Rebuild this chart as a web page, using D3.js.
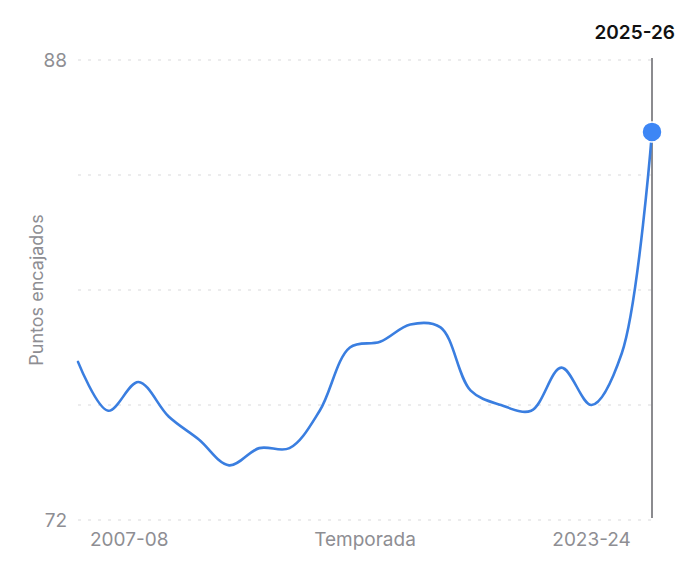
<!DOCTYPE html>
<html>
<head>
<meta charset="utf-8">
<script src="https://cdn.jsdelivr.net/npm/d3@7"></script>
<style>
  html, body { margin: 0; padding: 0; background: #fff; }
  svg { display: block; font-family: Inter, "Noto Sans", sans-serif; }
</style>
</head>
<body>
<svg id="chart" width="680" height="583"></svg>
<script>
const seasons = ["2006-07","2007-08","2008-09","2009-10","2010-11","2011-12","2012-13","2013-14","2014-15","2015-16","2016-17","2017-18","2018-19","2019-20","2020-21","2021-22","2022-23","2023-24","2024-25","2025-26"];
const pointsAllowed = [77.5, 75.8, 76.8, 75.6, 74.8, 73.9, 74.5, 74.5, 75.8, 78.0, 78.2, 78.8, 78.7, 76.5, 76.0, 75.8, 77.3, 76.0, 77.8, 85.5];
const gridValues = [72, 76, 80, 84, 88];
const yTickLabels = [72, 88];
const xTickLabels = ["2007-08", "2023-24"];
const yTitle = "Puntos encajados";
const xTitle = "Temporada";
const highlighted = "2025-26";

(function () {
const svg = d3.select("#chart");
const mLeft = 78, mRight = 652, mTop = 60, mBottom = 520;
const gray = "#8e8e93";

const x = d3.scaleLinear().domain([0, seasons.length - 1]).range([mLeft, mRight]);
const y = d3.scaleLinear().domain([72, 88]).range([mBottom, mTop]);

// grid
svg.append("g").selectAll("line").data(gridValues).join("line")
  .attr("x1", mLeft).attr("x2", mRight)
  .attr("y1", d => y(d)).attr("y2", d => y(d))
  .attr("stroke", "#d9d9dc").attr("stroke-width", 1.2)
  .attr("stroke-dasharray", "3,7");

// y axis labels
const yAxis = d3.axisLeft(y).tickValues(yTickLabels).tickSize(0).tickPadding(11);
const ya = svg.append("g").attr("transform", `translate(${mLeft},0)`).call(yAxis);
ya.select(".domain").remove();
ya.selectAll("text").attr("fill", gray).attr("font-size", 19).attr("font-family", "Inter, 'Noto Sans', sans-serif");

// x axis labels
const xa = svg.append("g");
xa.selectAll("text").data(xTickLabels).join("text")
  .attr("x", d => x(seasons.indexOf(d)) + (seasons.indexOf(d) === 1 ? 21 : 0))
  .attr("y", 546)
  .attr("text-anchor", "middle")
  .attr("fill", gray).attr("font-size", 19)
  .text(d => d);

svg.append("text")
  .attr("x", (mLeft + mRight) / 2).attr("y", 546)
  .attr("text-anchor", "middle").attr("fill", gray).attr("font-size", 19)
  .text(xTitle);

svg.append("text")
  .attr("transform", `translate(43,${(mTop + mBottom) / 2}) rotate(-90)`)
  .attr("text-anchor", "middle").attr("fill", gray).attr("font-size", 18)
  .text(yTitle);

// highlight rule
const hi = seasons.indexOf(highlighted);
svg.append("line")
  .attr("x1", x(hi)).attr("x2", x(hi))
  .attr("y1", mTop - 2).attr("y2", mBottom - 2)
  .attr("stroke", "#6e6e73").attr("stroke-width", 1.6);

// line
const line = d3.line()
  .x((d, i) => x(i))
  .y(d => y(d))
  .curve(d3.curveCatmullRom.alpha(0.5));

svg.append("path")
  .datum(pointsAllowed)
  .attr("d", line)
  .attr("fill", "none")
  .attr("stroke", "#3a7ee0")
  .attr("stroke-width", 2.6)
  .attr("stroke-linejoin", "round")
  .attr("stroke-linecap", "round");

// highlighted point
svg.append("circle")
  .attr("cx", x(hi)).attr("cy", y(pointsAllowed[hi]))
  .attr("r", 10)
  .attr("fill", "#3d86f5")
  .attr("stroke", "#fff").attr("stroke-width", 1.5);

svg.append("text")
  .attr("x", 675).attr("y", 39)
  .attr("text-anchor", "end")
  .attr("fill", "#111").attr("font-size", 19).attr("font-weight", 600)
  .text(highlighted);
})();
</script>
</body>
</html>
